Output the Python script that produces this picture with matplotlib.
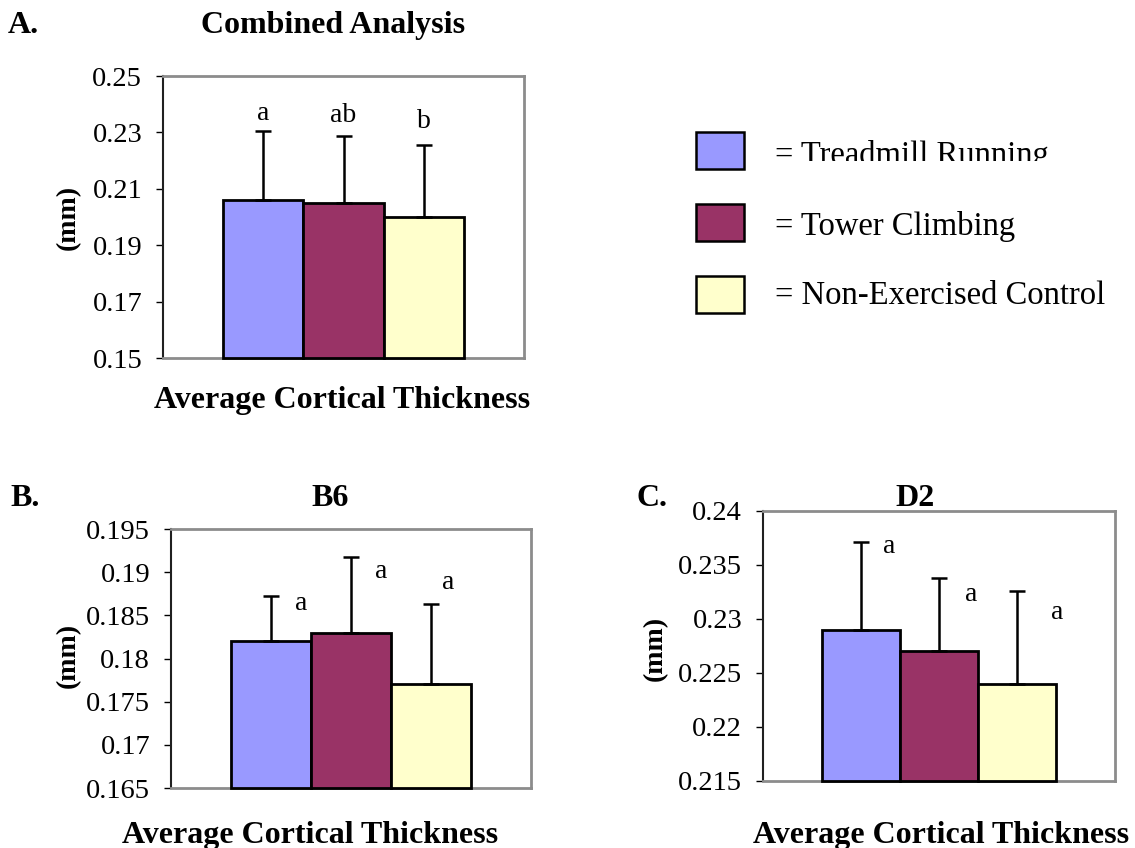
import matplotlib
matplotlib.use("Agg")
import matplotlib.pyplot as plt
from matplotlib.patches import Rectangle

plt.rcParams["font.family"] = ["Liberation Serif", "DejaVu Serif"]

W, H = 1135, 848

# data
groups = ["Treadmill Running", "Tower Climbing", "Non-Exercised Control"]
colors = ["#9999FF", "#993366", "#FFFFCC"]

combined_mean = [0.206, 0.205, 0.200]
combined_err = [0.0245, 0.0237, 0.0255]
combined_letters = ["a", "ab", "b"]
combined_ticks = [0.15, 0.17, 0.19, 0.21, 0.23, 0.25]
combined_ticklabels = ["0.15", "0.17", "0.19", "0.21", "0.23", "0.25"]

b6_mean = [0.182, 0.183, 0.177]
b6_err = [0.0052, 0.0087, 0.0093]
b6_letters = ["a", "a", "a"]
b6_ticks = [0.165, 0.17, 0.175, 0.18, 0.185, 0.19, 0.195]
b6_ticklabels = ["0.165", "0.17", "0.175", "0.18", "0.185", "0.19", "0.195"]

d2_mean = [0.229, 0.227, 0.224]
d2_err = [0.0081, 0.0068, 0.0086]
d2_letters = ["a", "a", "a"]
d2_ticks = [0.215, 0.22, 0.225, 0.23, 0.235, 0.24]
d2_ticklabels = ["0.215", "0.22", "0.225", "0.23", "0.235", "0.24"]

PT = 72.0 / 100  # pixels -> points


def frame(left, top, right, bottom):
    # axes rect from pixel box
    return [left / W, 1 - bottom / H, (right - left) / W, (bottom - top) / H]


def draw_panel(fig, rect, means, errs, letters, offsets, ticks, ticklabels):
    ax = fig.add_axes(rect)
    x = list(range(len(means)))
    low = ticks[0]
    ax.bar(x, [m - low for m in means], bottom=low, width=1.0, color=colors,
           edgecolor="black", linewidth=2.0, zorder=3, clip_on=False)
    ax.errorbar(x, means, yerr=[[0] * len(errs), errs], fmt="none", ecolor="black",
                elinewidth=1.8, capsize=6, capthick=1.8, zorder=4)
    for xi, m, e, lab, (dx, dy) in zip(x, means, errs, letters, offsets):
        ax.annotate(lab, (xi, m + e), xytext=(dx * PT, dy * PT), textcoords="offset points",
                    ha="center", va="baseline", fontsize=20)
    ax.set_xlim(-1.25, 3.25)
    ax.set_ylim(ticks[0], ticks[-1])
    ax.set_yticks(ticks)
    ax.set_yticklabels(ticklabels)
    ax.set_xticks([])
    ax.tick_params(axis="y", direction="out", length=5, width=1, color="black",
                   pad=10, labelsize=20.5)
    for side in ["top", "right", "bottom"]:
        ax.spines[side].set_color("#8c8c8c")
        ax.spines[side].set_linewidth(2.0)
    ax.spines["left"].set_color("#202020")
    ax.spines["left"].set_linewidth(1.5)
    return ax


fig = plt.figure(figsize=(W / 100, H / 100), dpi=100)

# letter offsets (px right, px up from error-bar top)
draw_panel(fig, frame(163, 76, 524, 358), combined_mean, combined_err, combined_letters,
           [(0, 11), (0, 14), (0, 17)], combined_ticks, combined_ticklabels)
draw_panel(fig, frame(171, 529, 531, 788), b6_mean, b6_err, b6_letters,
           [(30, -14), (30, -21), (17, 15)], b6_ticks, b6_ticklabels)
draw_panel(fig, frame(763, 511, 1115, 781), d2_mean, d2_err, d2_letters,
           [(28, -11), (32, -23), (40, -28)], d2_ticks, d2_ticklabels)

# overlay in pixel coordinates for titles and legend
lay = fig.add_axes([0, 0, 1, 1], zorder=5)
lay.set_xlim(0, W)
lay.set_ylim(H, 0)
lay.axis("off")

bold = dict(fontsize=23, fontweight="bold", va="baseline")
lay.text(8, 33, "A.", ha="left", **bold)
lay.text(333, 33, "Combined Analysis", ha="center", **bold)
lay.text(10, 506, "B.", ha="left", **bold)
lay.text(330, 506, "B6", ha="center", **bold)
lay.text(636, 506, "C.", ha="left", **bold)
lay.text(915, 506, "D2", ha="center", **bold)

xl = dict(fontsize=23, fontweight="bold", va="baseline", ha="center")
lay.text(342, 408, "Average Cortical Thickness", **xl)
lay.text(310, 843, "Average Cortical Thickness", **xl)
lay.text(941, 843, "Average Cortical Thickness", **xl)

yl = dict(fontsize=20, fontweight="bold", rotation=90, ha="center", va="center")
lay.text(68, 217, "(mm)", **yl)
lay.text(68, 655, "(mm)", **yl)
lay.text(655, 648, "(mm)", **yl)

# legend
baselines = [164, 235, 304]
for i, (name, col) in enumerate(zip(groups, colors)):
    top = 132 + i * 72
    lay.add_patch(Rectangle((696, top), 48, 37, facecolor=col, edgecolor="black", linewidth=1.8))
    t = lay.text(775, baselines[i], "= " + name, fontsize=23.5, va="baseline", ha="left")
    if i == 0:
        clip = Rectangle((690, 100), 440, 61, transform=lay.transData)
        t.set_clip_path(clip)
        t.set_clip_on(True)

fig.savefig("out.png", dpi=100)
